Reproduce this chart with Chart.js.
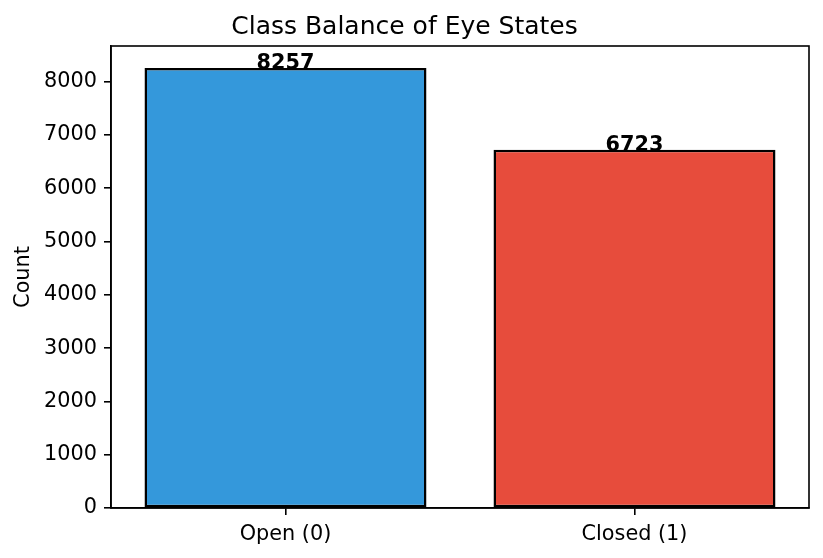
<!DOCTYPE html>
<html>
<head>
<meta charset="utf-8">
<script src="https://cdn.jsdelivr.net/npm/chart.js@4"></script>
<style>
  html, body { margin: 0; padding: 0; background: #fff; }
  canvas { display: block; }
</style>
</head>
<body>
<canvas id="myChart" width="823" height="558"></canvas>
<script>
const categories = ['Open (0)', 'Closed (1)'];
const counts = [8257, 6723];
const barColors = ['#3498db', '#e74c3c'];
const yTicks = [0, 1000, 2000, 3000, 4000, 5000, 6000, 7000, 8000];

const FONT = 'DejaVu Sans';

// frame on top/right + bold value labels over the bars
const framePlugin = {
    id: 'frame',
    afterDatasetsDraw(chart) {
        const ctx = chart.ctx;
        const a = chart.chartArea;
        const meta = chart.getDatasetMeta(0);
        ctx.save();
        ctx.fillStyle = '#000';
        ctx.font = 'bold 20.8px "' + FONT + '"';
        ctx.textAlign = 'center';
        ctx.textBaseline = 'alphabetic';
        meta.data.forEach((bar, i) => {
            ctx.fillText(String(counts[i]), bar.x, bar.y + 1);
        });
        ctx.strokeStyle = '#000';
        ctx.lineWidth = 1.6;
        ctx.strokeRect(a.left, a.top, a.right - a.left, a.bottom - a.top);
        ctx.restore();
    }
};

const ctx = document.getElementById('myChart');
new Chart(ctx, {
    type: 'bar',
    data: {
        labels: categories,
        datasets: [{
            data: counts,
            backgroundColor: barColors,
            borderColor: '#000',
            borderWidth: 2.5,
            borderSkipped: false,
            barPercentage: 0.808,
            categoryPercentage: 1
        }]
    },
    options: {
        responsive: false,
        animation: false,
        layout: { padding: { top: 0, right: 14, left: 0, bottom: 0 } },
        plugins: {
            legend: { display: false },
            tooltip: { enabled: false },
            title: {
                display: true,
                text: 'Class Balance of Eye States',
                color: '#000',
                font: { family: FONT, size: 25, weight: 'normal' },
                padding: { top: 12, bottom: 4 }
            }
        },
        scales: {
            x: {
                type: 'category',
                offset: true,
                afterFit: scale => { scale.height = 50; },
                ticks: {
                    color: '#000',
                    font: { family: FONT, size: 20.8 },
                    padding: 7
                },
                grid: { offset: false, drawOnChartArea: false, drawTicks: true, tickLength: 7, color: '#000', lineWidth: 1.6 },
                border: { display: true, color: '#000', width: 1.6 }
            },
            y: {
                min: 0,
                max: 8670,
                afterBuildTicks: scale => { scale.ticks = yTicks.map(v => ({ value: v })); },
                afterFit: scale => { scale.width = 111; },
                ticks: {
                    callback: v => String(v),
                    color: '#000',
                    font: { family: FONT, size: 20.8 },
                    padding: 7
                },
                title: {
                    display: true,
                    text: 'Count',
                    color: '#000',
                    font: { family: FONT, size: 20.8 },
                    padding: { top: 11, bottom: 0 }
                },
                grid: { drawOnChartArea: false, drawTicks: true, tickLength: 7, color: '#000', lineWidth: 1.6 },
                border: { display: true, color: '#000', width: 1.6 }
            }
        }
    },
    plugins: [framePlugin]
});
</script>
</body>
</html>
